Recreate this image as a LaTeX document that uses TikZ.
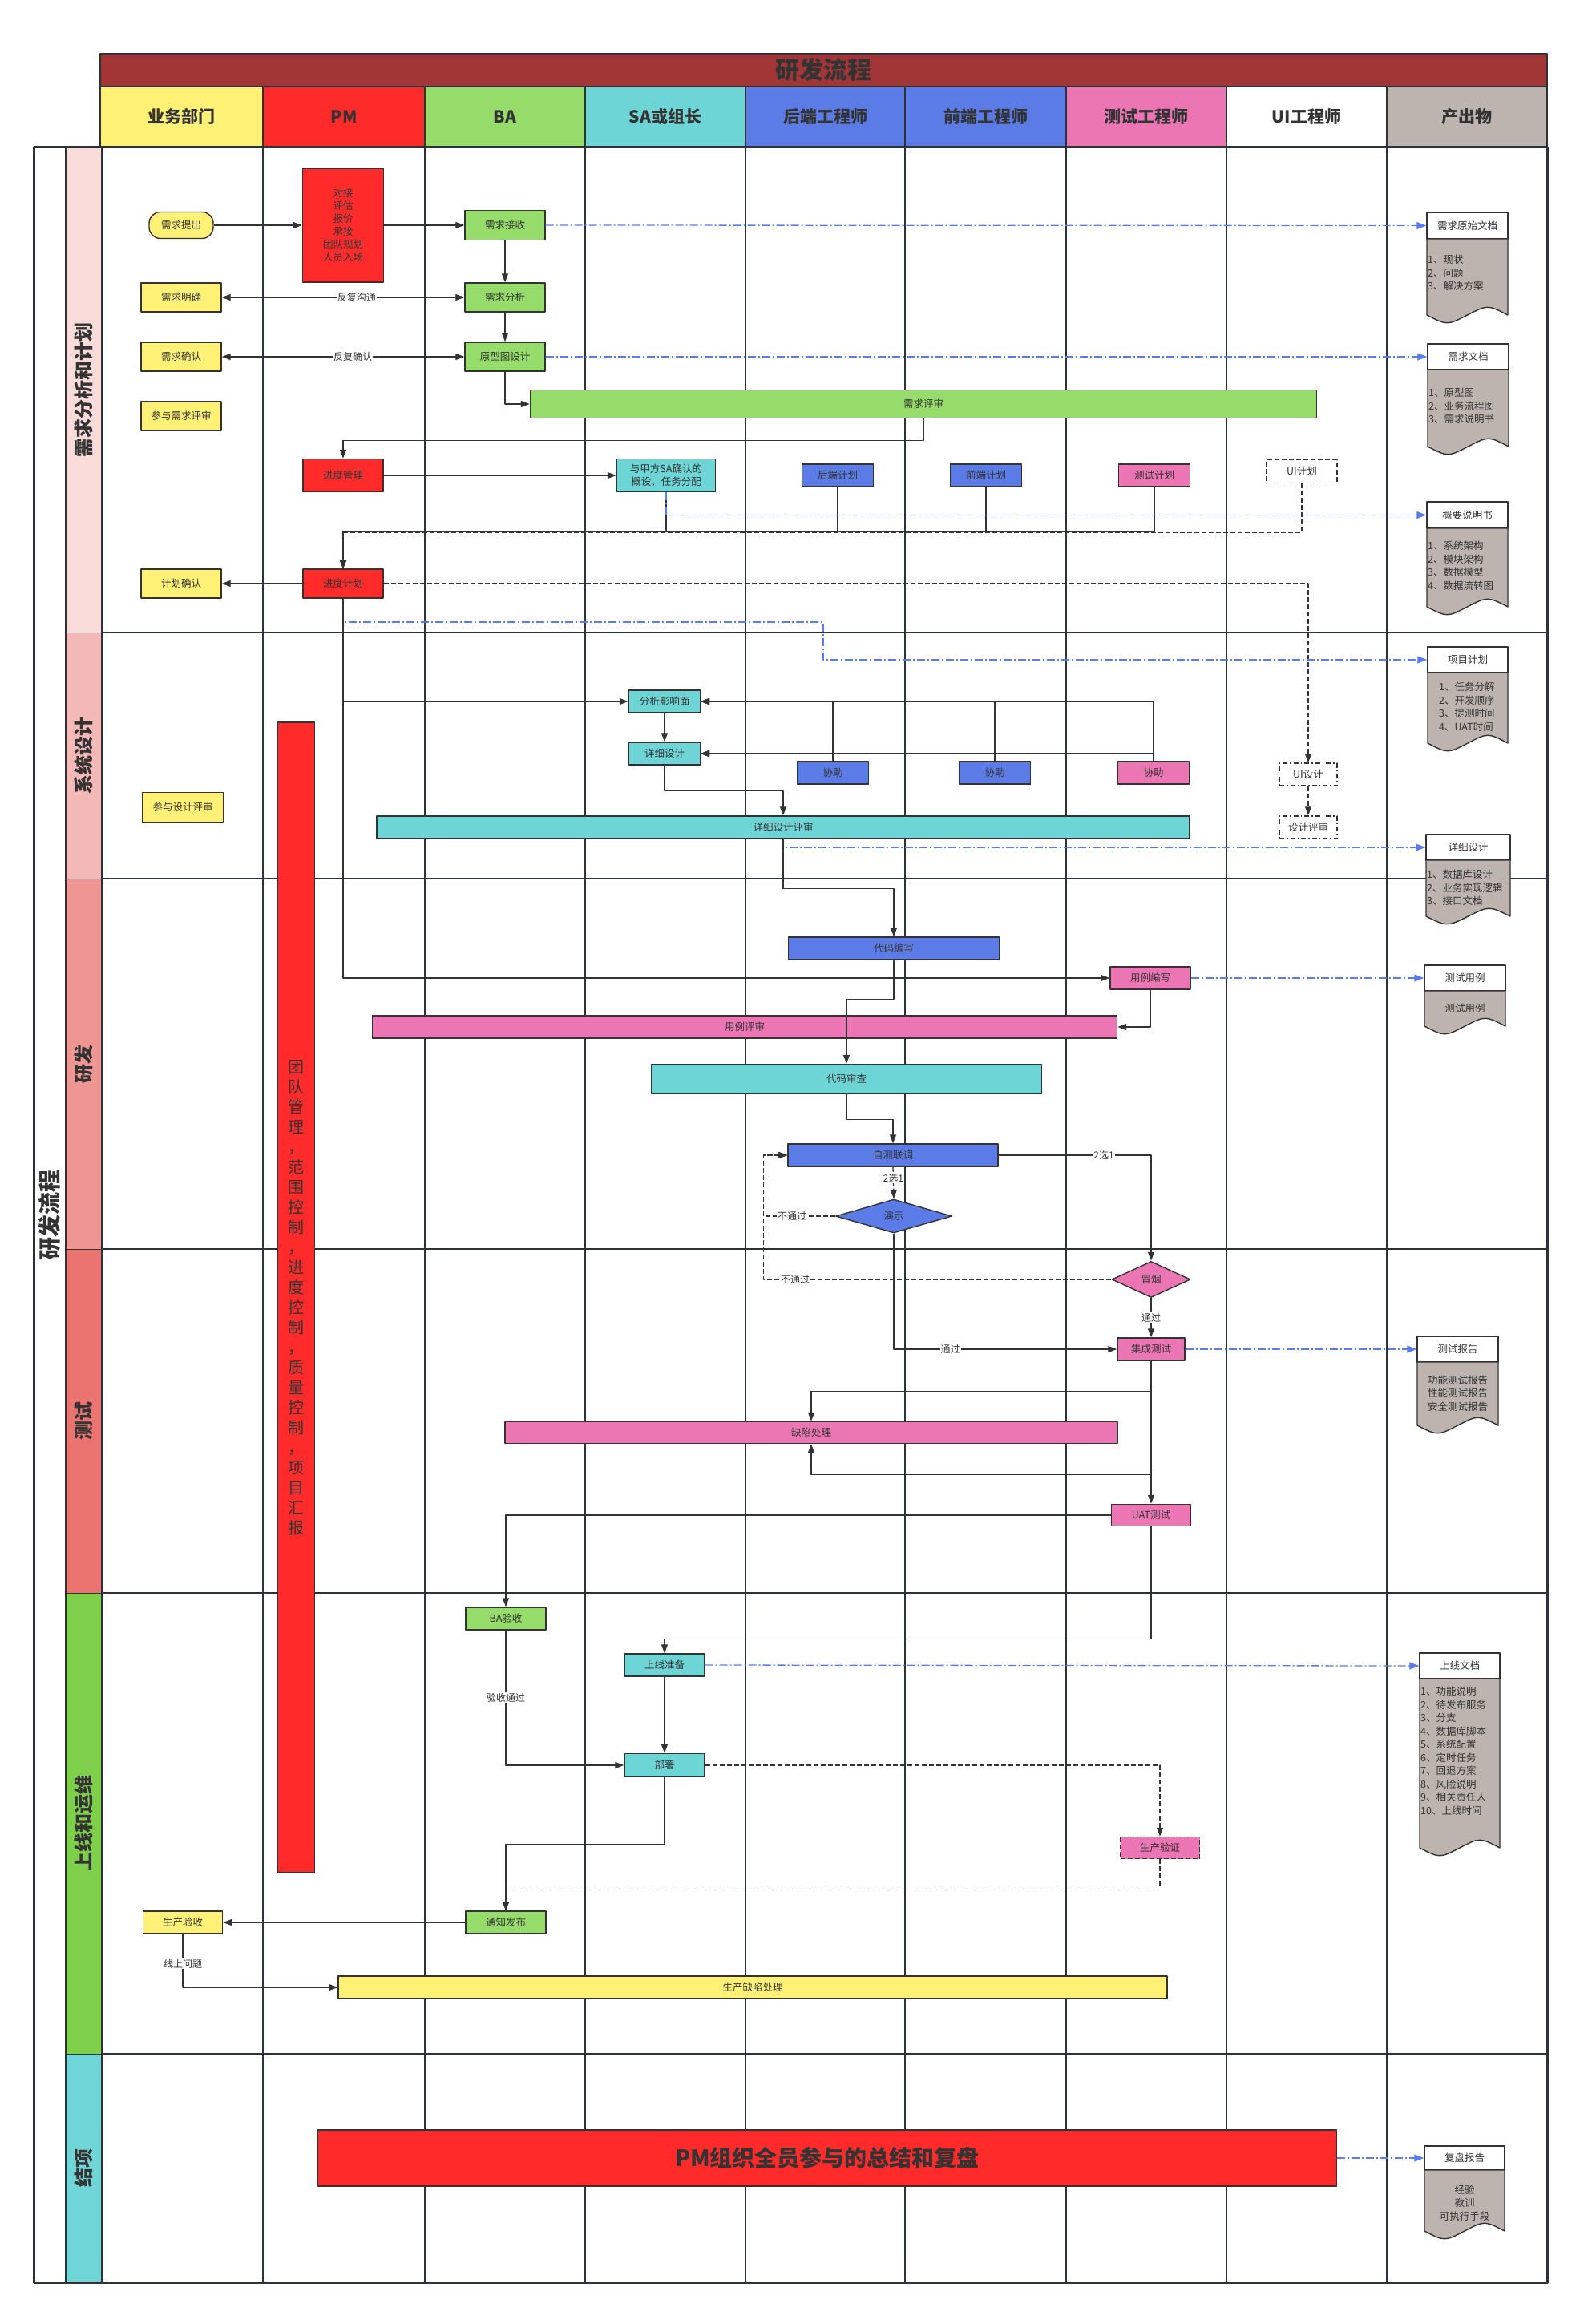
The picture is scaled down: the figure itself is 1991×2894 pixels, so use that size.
\documentclass[tikz,border=0pt]{standalone}
\usepackage{fontspec}
\setmainfont{Noto Sans CJK SC}
\usetikzlibrary{arrows.meta,calc,shapes.geometric,positioning}

\definecolor{ink}{HTML}{333333}
\definecolor{gridink}{HTML}{2D3238}
\definecolor{bizyellow}{HTML}{FFF176}
\definecolor{pmred}{HTML}{FF2B2B}
\definecolor{bagreen}{HTML}{95DC6A}
\definecolor{sacyan}{HTML}{6ED5D6}
\definecolor{devblue}{HTML}{5B7BE7}
\definecolor{qapink}{HTML}{EC75B4}
\definecolor{outgrey}{HTML}{BDB3AF}
\definecolor{titlered}{HTML}{A23535}
\definecolor{phaseA}{HTML}{F9DCDA}
\definecolor{phaseB}{HTML}{F4B8B6}
\definecolor{phaseC}{HTML}{EF9592}
\definecolor{phaseD}{HTML}{EC7470}
\definecolor{phaseE}{HTML}{7ED04B}
\definecolor{phaseF}{HTML}{6FD5D6}
\definecolor{docblue}{HTML}{5A7CF0}

\tikzset{
  titlebar/.style={draw=gridink, line width=2.5pt, fill=titlered, minimum width=1805, minimum height=41, inner sep=0, text=ink, font=\fontsize{30}{32}\selectfont\bfseries},
  headcell/.style={draw=gridink, line width=2pt, minimum height=75, inner sep=0, text=ink, font=\fontsize{21}{24}\selectfont\bfseries},
  phasecell/.style={draw=gridink, line width=1pt, rotate=90, minimum height=45, inner sep=0, text=ink, font=\fontsize{24}{26}\selectfont\bfseries},
  outerlabel/.style={rotate=90, inner sep=0, text=ink, font=\fontsize{28}{30}\selectfont\bfseries},
  gridline/.style={draw=gridink, line width=2pt},
  frame/.style={draw=gridink, line width=3pt},
  task/.style={draw=ink, line width=1.4pt, text=ink, inner sep=1pt, align=center, minimum width=100, minimum height=28, font=\fontsize{12.5}{16}\selectfont},
  term/.style={task, rounded corners=14pt, minimum width=80, minimum height=33},
  dashbox/.style={task, fill=white, dash pattern=on 6pt off 3pt},
  dotbox/.style={task, fill=white, dash pattern=on 6pt off 3pt on 1.5pt off 3pt},
  decide/.style={task, diamond, inner sep=0},
  flow/.style={draw=ink, line width=1.3pt, ->},
  dflow/.style={flow, dash pattern=on 6pt off 3pt},
  docflow/.style={draw=docblue, line width=1.3pt, dash pattern=on 10pt off 3pt on 2pt off 3pt, -{Triangle[length=12pt,width=9pt]}},
  tag/.style={fill=white, inner sep=1pt, text=ink, font=\fontsize{12}{14}\selectfont},
  dochead/.style={draw=ink, line width=1.4pt, fill=white, inner sep=0, text=ink, font=\fontsize{12.5}{14}\selectfont},
  docfill/.style={draw=ink, line width=1.4pt, fill=outgrey},
  doctext/.style={inner sep=0, align=left, text=ink, font=\fontsize{12.5}{16.5}\selectfont}
}

% paper body with a wavy lower edge: left x, right x, top y, bottom y
\newcommand{\wavebody}[4]{%
  \filldraw[docfill] (#1,#3) -- (#2,#3) -- (#2,#4)
    .. controls ({0.75*#2+0.25*#1},#4-13) .. ({0.5*#1+0.5*#2},#4)
    .. controls ({0.25*#2+0.75*#1},#4+13) .. (#1,#4) -- cycle;}

\begin{document}
\begin{tikzpicture}[x=1pt, y=-1pt, >={Triangle[length=11pt,width=8pt]}, line join=round]
  \useasboundingbox (0,0) rectangle (1991,2894);

  \node[titlebar] (title) at (1027.5,87.5) {研发流程};
  \node[headcell, fill=bizyellow, minimum width=203] (hbiz) at (226.5,145.5) {业务部门};
  \node[headcell, fill=pmred, minimum width=202] (hpm) at (429,145.5) {PM};
  \node[headcell, fill=bagreen, minimum width=200] (hba) at (630,145.5) {BA};
  \node[headcell, fill=sacyan, minimum width=200] (hsa) at (830,145.5) {SA或组长};
  \node[headcell, fill=devblue, minimum width=199] (hbe) at (1029.5,145.5) {后端工程师};
  \node[headcell, fill=devblue, minimum width=201] (hfe) at (1229.5,145.5) {前端工程师};
  \node[headcell, fill=qapink, minimum width=200] (hqa) at (1430,145.5) {测试工程师};
  \node[headcell, fill=white, minimum width=200] (hui) at (1630,145.5) {UI工程师};
  \node[headcell, fill=outgrey, minimum width=200] (hout) at (1830,145.5) {产出物};

  \node[phasecell, fill=phaseA, minimum width=606] (ph1) at (104.5,486) {需求分析和计划};
  \node[phasecell, fill=phaseB, minimum width=307] (ph2) at (104.5,942.5) {系统设计};
  \node[phasecell, fill=phaseC, minimum width=462] (ph3) at (104.5,1327) {研发};
  \node[phasecell, fill=phaseD, minimum width=429] (ph4) at (104.5,1772.5) {测试};
  \node[phasecell, fill=phaseE, minimum width=575] (ph5) at (104.5,2274.5) {上线和运维};
  \node[phasecell, fill=phaseF, minimum width=285] (ph6) at (104.5,2704.5) {结项};
  \node[outerlabel] (whole) at (62,1515) {研发流程};

  \draw[frame] (42,183) rectangle (1930,2847);
  \draw[gridline] (82,183) -- (82,2847);
  \draw[frame] (127,183) -- (127,2847);
  \draw[gridline] (328,183) -- (328,2847) (530,183) -- (530,2847) (730,183) -- (730,2847)
    (930,183) -- (930,2847) (1129,183) -- (1129,2847) (1330,183) -- (1330,2847)
    (1530,183) -- (1530,2847) (1730,183) -- (1730,2847);
  \draw[gridline] (127,789) -- (1930,789) (127,1096) -- (1930,1096) (127,1558) -- (1930,1558)
    (127,1987) -- (1930,1987) (127,2562) -- (1930,2562);

  % 需求分析和计划
  \node[term, fill=bizyellow] (reqraise) at (226,281) {需求提出};
  \node[task, fill=pmred, minimum width=101, minimum height=142] (pmtask) at (428,281) {对接\\评估\\报价\\承接\\团队规划\\人员入场};
  \node[task, fill=bagreen, minimum height=37] (reqrecv) at (630,281) {需求接收};
  \node[task, fill=bizyellow, minimum height=36] (reqclear) at (226,371) {需求明确};
  \node[task, fill=bagreen, minimum height=36] (reqana) at (630,371) {需求分析};
  \node[task, fill=bizyellow, minimum height=36] (reqconf) at (226,445) {需求确认};
  \node[task, fill=bagreen, minimum height=36] (protodes) at (630,445) {原型图设计};
  \node[task, fill=bizyellow, minimum height=36] (joinreqrev) at (226,519) {参与需求评审};
  \node[task, fill=bagreen, minimum width=981, minimum height=35] (reqrev) at (1152,504) {需求评审};
  \node[task, fill=pmred, minimum height=41] (progmgmt) at (428,593) {进度管理};
  \node[task, fill=sacyan, minimum width=123, minimum height=41] (sacheck) at (831,593) {与甲方SA确认的\\概设、任务分配};
  \node[task, fill=devblue, minimum width=89] (beplan) at (1045,593) {后端计划};
  \node[task, fill=devblue, minimum width=89] (feplan) at (1230,593) {前端计划};
  \node[task, fill=qapink, minimum width=89] (testplan) at (1440,593) {测试计划};
  \node[dashbox, minimum width=88, minimum height=29] (uiplan) at (1624,588) {UI计划};
  \node[task, fill=pmred, minimum height=36] (progplan) at (428,728) {进度计划};
  \node[task, fill=bizyellow, minimum height=36] (planconf) at (226,728) {计划确认};
  \coordinate (planturn) at (1027,776);

  % 系统设计
  \node[task, fill=bizyellow, minimum width=101, minimum height=37] (joindesrev) at (228,1007) {参与设计评审};
  \node[task, fill=sacyan, minimum width=89] (analyze) at (829,875) {分析影响面};
  \node[task, fill=sacyan, minimum width=89] (detdes) at (829,940) {详细设计};
  \node[task, fill=devblue, minimum width=89] (assist1) at (1039,964) {协助};
  \node[task, fill=devblue, minimum width=89] (assist2) at (1241,964) {协助};
  \node[task, fill=qapink, minimum width=89] (assist3) at (1439,964) {协助};
  \node[dotbox, minimum width=72] (uides) at (1632,966) {UI设计};
  \node[dotbox, minimum width=72] (desrev) at (1632,1032) {设计评审};
  \node[task, fill=sacyan, minimum width=1014] (detrev) at (977,1032) {详细设计评审};
  \node[task, fill=pmred, minimum width=46, minimum height=1435, font=\fontsize{20}{25}\selectfont] (teambar) at (369.5,1618.5)
    {团\\队\\管\\理\\，\\范\\围\\控\\制\\，\\进\\度\\控\\制\\，\\质\\量\\控\\制\\，\\项\\目\\汇\\报};

  % 研发
  \node[task, fill=devblue, minimum width=263] (coding) at (1115,1183) {代码编写};
  \node[task, fill=qapink] (casewrite) at (1435,1220) {用例编写};
  \node[task, fill=qapink, minimum width=929] (caserev) at (929,1281) {用例评审};
  \node[task, fill=sacyan, minimum width=487, minimum height=37] (codereview) at (1056,1346) {代码审查};
  \node[task, fill=devblue, minimum width=262] (selftest) at (1114,1441) {自测联调};
  \node[decide, fill=devblue, minimum width=145, minimum height=42] (demo) at (1115,1517) {演示};

  % 测试
  \node[decide, fill=qapink, minimum width=98, minimum height=45] (smoke) at (1436,1596) {冒烟};
  \node[task, fill=qapink, minimum width=84] (integ) at (1436,1683) {集成测试};
  \node[task, fill=qapink, minimum width=764, minimum height=27] (defect) at (1012,1787) {缺陷处理};
  \node[task, fill=qapink, minimum width=99, minimum height=27] (uat) at (1436,1890) {UAT测试};

  % 上线和运维
  \node[task, fill=bagreen] (baacc) at (631,2019) {BA验收};
  \node[task, fill=sacyan] (goprep) at (829,2077) {上线准备};
  \node[task, fill=sacyan, minimum height=29] (deploy) at (829,2202) {部署};
  \node[dashbox, fill=qapink, minimum width=99, minimum height=27] (prodver) at (1447,2305) {生产验证};
  \node[task, fill=bagreen] (notify) at (631,2398) {通知发布};
  \node[task, fill=bizyellow, minimum width=99] (prodacc) at (228,2398) {生产验收};
  \node[task, fill=bizyellow, minimum width=1034] (proddef) at (939,2479) {生产缺陷处理};

  % 结项
  \node[task, fill=pmred, minimum width=1271, minimum height=70, font=\fontsize{28}{30}\selectfont\bfseries] (retro) at (1032,2692) {PM组织全员参与的总结和复盘};

  % 产出物
  \node[dochead, minimum width=101, minimum height=33] (dorig) at (1830.5,281.5) {需求原始文档};
  \wavebody{1780}{1881}{298}{393}
  \node[doctext, anchor=north west] (dorigtext) at (1781,318) {1、现状\\2、问题\\3、解决方案};
  \node[dochead, minimum width=101, minimum height=32] (dreq) at (1831.5,445) {需求文档};
  \wavebody{1781}{1882}{461}{557}
  \node[doctext, anchor=north west] (dreqtext) at (1782,484) {1、原型图\\2、业务流程图\\3、需求说明书};
  \node[dochead, minimum width=101, minimum height=33] (dsum) at (1830.5,642.5) {概要说明书};
  \wavebody{1780}{1881}{659}{757}
  \node[doctext, anchor=north west] (dsumtext) at (1781,675) {1、系统架构\\2、模块架构\\3、数据模型\\4、数据流转图};
  \node[dochead, minimum width=100, minimum height=32] (dplan) at (1831,823) {项目计划};
  \wavebody{1781}{1881}{839}{927}
  \node[doctext, anchor=north west] (dplantext) at (1795,851) {1、任务分解\\2、开发顺序\\3、提测时间\\4、UAT时间};
  \node[dochead, minimum width=105, minimum height=32] (ddet) at (1831.5,1057) {详细设计};
  \wavebody{1779}{1884}{1073}{1143}
  \node[doctext, anchor=north west] (ddettext) at (1780,1085) {1、数据库设计\\2、业务实现逻辑\\3、接口文档};
  \node[dochead, minimum width=101, minimum height=32] (dcase) at (1827.5,1220) {测试用例};
  \wavebody{1777}{1878}{1236}{1280}
  \node[doctext] (dcasetext) at (1827.5,1258) {测试用例};
  \node[dochead, minimum width=101, minimum height=32] (drep) at (1818.5,1683) {测试报告};
  \wavebody{1768}{1869}{1699}{1778}
  \node[doctext, align=center] (dreptext) at (1818.5,1738) {功能测试报告\\性能测试报告\\安全测试报告};
  \node[dochead, minimum width=100, minimum height=32] (dgo) at (1821,2078) {上线文档};
  \wavebody{1771}{1871}{2094}{2305}
  \node[doctext, anchor=north west] (dgotext) at (1772,2104) {1、功能说明\\2、待发布服务\\3、分支\\4、数据库脚本\\5、系统配置\\6、定时任务\\7、回退方案\\8、风险说明\\9、相关责任人\\10、上线时间};
  \node[dochead, minimum width=100, minimum height=30] (dretro) at (1827,2692) {复盘报告};
  \wavebody{1777}{1877}{2707}{2783}
  \node[doctext, align=center] (dretrotext) at (1827,2748) {经验\\教训\\可执行手段};

  % flows
  \draw[flow] (reqraise.east) -- (pmtask.west);
  \draw[flow] (pmtask.east) -- (reqrecv.west);
  \draw[flow] (reqrecv.south) -- (reqana.north);
  \draw[flow] (reqana.south) -- (protodes.north);
  \draw[flow, <->] (reqclear.east) -- node[tag, pos=0.556] (talk) {反复沟通} (reqana.west);
  \draw[flow, <->] (reqconf.east) -- node[tag, pos=0.54] (confirm) {反复确认} (protodes.west);
  \draw[flow] (protodes.south) |- (reqrev.west);
  \draw[flow] (reqrev.south) -- ++(0,27) -| (progmgmt.north);
  \draw[flow] (progmgmt.east) -- (sacheck.west);
  \draw[flow] (beplan.south) -- ++(0,56) -| (progplan.north);
  \draw[flow] (feplan.south) -- ++(0,56) -| (progplan.north);
  \draw[flow] (testplan.south) -- ++(0,56) -| (progplan.north);
  \draw[dflow] (uiplan.south) -- ++(0,61) -| (progplan.north);
  \draw[flow, line width=2.4pt] (sacheck.south) -- ++(0,49) -| (progplan.north);
  \draw[docflow] (sacheck.south) |- (dsum.west);
  \draw[flow] (progplan.west) -- (planconf.east);
  \draw[dflow] (progplan.east) -| (uides.north);
  \draw[dflow] (uides.south) -- (desrev.north);
  \draw[docflow] (progplan.south) |- (planturn) |- (dplan.west);
  \draw[flow] (progplan.south) |- (analyze.west);
  \draw[flow] (progplan.south) |- (casewrite.west);
  \draw[flow] (analyze.south) -- (detdes.north);
  \draw[flow] (assist1.north) |- (analyze.east);
  \draw[flow] (assist2.north) |- (analyze.east);
  \draw[flow] (assist3.north) |- (analyze.east);
  \draw[flow] (assist1.north) |- (detdes.east);
  \draw[flow] (assist2.north) |- (detdes.east);
  \draw[flow] (assist3.north) |- (detdes.east);
  \draw[flow] (detdes.south) -- ++(0,32) -| (detrev.north);
  \draw[docflow] (detrev.south) |- (ddet.west);
  \draw[flow] (detrev.south) -- ++(0,62) -| (coding.north);
  \draw[docflow] (casewrite.east) -- (dcase.west);
  \draw[flow] (casewrite.south) |- (caserev.east);
  \draw[flow] (coding.south) -- ++(0,49) -| (codereview.north);
  \draw[flow] (codereview.south) -- ++(0,31) -| (selftest.north);
  \draw[flow] (selftest.east) -| node[tag, pos=0.345] (pickA) {2选1} (smoke.north);
  \draw[dflow] (selftest.south) -- node[tag, pos=0.35] (pickB) {2选1} (demo.north);
  \draw[dflow] (demo.west) -| node[tag, pos=0.3] (failA) {不通过} ([xshift=-30pt]selftest.west) -- (selftest.west);
  \draw[dflow] (smoke.west) -| node[tag, pos=0.454] (failB) {不通过} ([xshift=-30pt]selftest.west) -- (selftest.west);
  \draw[flow] (smoke.south) -- node[tag] (passA) {通过} (integ.north);
  \draw[flow] (demo.south) |- node[tag, pos=0.627] (passB) {通过} (integ.west);
  \draw[docflow] (integ.east) -- (drep.west);
  \draw[flow] (integ.south) -- ++(0,38) -| (defect.north);
  \draw[flow] (integ.south) -- ++(0,142) -| (defect.south);
  \draw[flow] (integ.south) -- (uat.north);
  \draw[flow] (uat.west) -| (baacc.north);
  \draw[flow] (uat.south) -- ++(0,140) -| (goprep.north);
  \draw[docflow] (goprep.east) -- (dgo.west);
  \draw[flow] (goprep.south) -- (deploy.north);
  \draw[flow] (baacc.south) |- node[tag, pos=0.25] (accpass) {验收通过} (deploy.west);
  \draw[dflow] (deploy.east) -| (prodver.north);
  \draw[dflow] (prodver.south) -- ++(0,33) -| (notify.north);
  \draw[flow] (deploy.south) -- ++(0,83) -| (notify.north);
  \draw[flow] (notify.west) -- (prodacc.east);
  \draw[flow] (prodacc.south) |- node[tag, pos=0.28] (online) {线上问题} (proddef.west);
  \draw[docflow] (retro.east) -- (dretro.west);
  \draw[docflow] (reqrecv.east) -- (dorig.west);
  \draw[docflow] (protodes.east) -- (dreq.west);
\end{tikzpicture}
\end{document}
